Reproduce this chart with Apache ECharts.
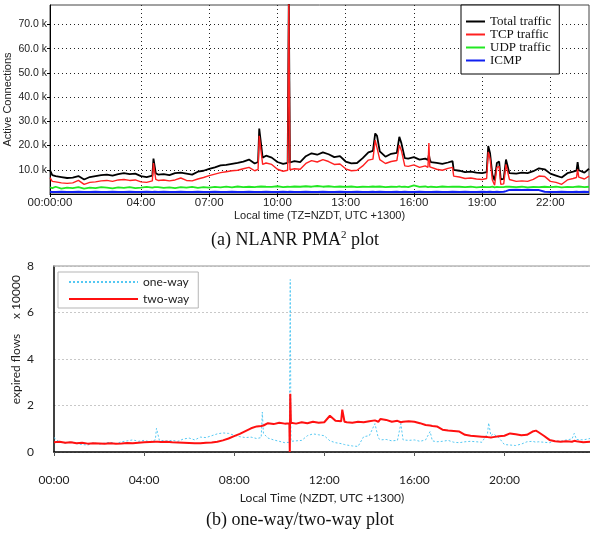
<!DOCTYPE html>
<html><head><meta charset="utf-8">
<script src="https://cdn.jsdelivr.net/npm/echarts@6/dist/echarts.min.js"></script>
<style>html,body{margin:0;padding:0;background:#fff}#c{width:590px;height:535px}</style>
</head><body><div id="c"></div>
<script>
// ---------- (a) NLANR PMA plot : hours, thousands of connections ----------
const timeA = [0,0.1,0.25,0.5,0.75,1,1.25,1.5,1.75,2,2.25,2.5,2.75,3,3.25,3.5,3.75,
  4,4.25,4.5,4.55,4.6,4.65,4.75,5,5.25,5.5,5.75,6,6.25,6.5,6.75,7,7.25,7.5,7.75,
  8,8.25,8.5,8.75,9,9.15,9.2,9.28,9.35,9.5,9.75,10,10.25,10.45,10.5,10.55,10.75,
  11,11.25,11.5,11.75,12,12.25,12.5,12.75,13,13.25,13.5,13.75,
  14,14.2,14.3,14.38,14.5,14.75,15,15.25,15.36,15.45,15.6,15.75,
  16,16.25,16.5,16.62,16.66,16.7,16.75,17,17.25,17.5,17.7,17.75,18,18.25,18.5,18.75,
  19,19.2,19.27,19.35,19.45,19.55,19.65,19.75,19.82,19.95,20.05,20.12,20.2,20.5,20.75,
  21,21.25,21.5,21.75,22,22.25,22.5,22.75,23,23.15,23.2,23.25,23.5,23.7];
const totalTraffic = [9.8,7.8,7.4,7.0,6.6,6.8,7.4,6.0,7.0,7.4,7.8,8.0,7.6,8.2,8.6,8.2,8.4,
  7.4,7.0,7.6,14.6,15.0,8.6,8.0,8.2,7.8,8.6,8.8,8.4,8.0,9.2,9.6,10.4,11.0,11.8,12.0,
  12.4,12.8,13.4,14.2,12.6,13.2,27.0,26.4,15.0,15.8,15.0,13.2,12.4,12.8,80,13.0,13.6,
  13.2,15.6,16.8,16.2,17.2,16.4,15.2,15.6,13.4,12.6,12.8,14.8,
  17.2,17.8,25.0,24.0,17.6,15.4,16.6,17.0,23.6,21.0,14.8,14.6,
  15.2,14.2,14.6,14.0,16.2,14.2,13.2,12.8,12.4,13.0,13.6,10.0,9.6,9.0,9.2,8.8,
  8.6,9.0,19.8,16.8,8.0,5.6,12.8,13.4,6.0,6.2,14.2,14.0,8.6,8.4,8.8,
  8.6,9.4,10.6,10.2,8.4,7.6,6.8,8.6,9.2,9.6,13.2,9.8,8.8,10.4];
const tcpTraffic = [6.8,5.2,5.0,4.6,4.4,4.6,5.6,4.0,4.8,5.0,5.4,5.6,5.2,5.8,6.0,5.6,5.8,
  5.0,4.8,5.4,12.8,13.0,6.0,5.6,5.8,5.4,5.8,6.6,5.6,5.4,6.2,6.8,7.6,8.2,8.8,9.2,
  9.6,9.8,10.4,11.0,9.6,10.2,24.0,23.6,12.2,12.8,12.2,10.2,9.4,9.8,80,10.0,10.4,
  10.2,12.6,13.8,13.2,14.2,13.4,12.2,12.4,10.4,9.6,9.8,11.6,
  14.0,14.4,22.2,21.4,14.2,12.6,13.4,13.8,20.2,18.0,11.6,11.4,
  12.0,11.0,11.6,11.0,21.0,11.2,10.4,10.2,9.8,10.6,11.0,7.4,7.0,6.4,6.6,6.2,
  6.0,6.4,17.4,14.6,5.8,3.6,11.0,11.4,4.0,4.2,12.2,12.0,6.0,5.2,5.4,
  5.2,6.0,7.4,7.2,5.2,4.8,4.0,5.8,6.4,6.8,10.2,7.0,6.2,7.4];
const udpTraffic = [2.8,2.4,3.0,2.2,2.6,2.4,2.8,2.2,2.6,2.4,2.8,2.6,2.3,2.7,2.5,2.8,2.4,
  2.6,2.9,2.6,2.7,2.8,2.6,2.8,2.5,2.7,2.4,2.8,2.6,2.9,2.5,2.8,2.6,2.9,2.7,3.0,
  2.7,3.1,2.8,3.0,2.8,3.0,2.9,3.1,2.8,3.0,2.9,3.2,2.8,3.0,3.1,2.9,3.1,
  3.0,3.2,3.0,3.3,3.0,3.2,2.9,3.1,2.9,3.1,2.8,3.0,
  2.9,3.1,3.0,2.9,3.1,2.8,3.0,2.9,3.1,2.9,3.0,2.8,
  3.6,2.9,3.1,2.8,3.0,2.9,3.0,2.8,3.1,2.9,3.0,2.8,3.0,2.8,3.0,2.7,
  2.9,2.8,3.0,2.8,3.0,2.7,2.9,2.8,3.0,2.8,3.0,2.8,3.0,2.8,3.0,
  2.7,2.9,2.8,3.0,2.8,3.0,2.7,2.9,2.8,3.0,2.9,3.1,2.8,3.0];
const icmpTraffic = [0.9,0.8,0.8,0.9,0.8,0.8,0.9,0.8,0.8,0.9,0.8,0.8,0.9,0.8,0.8,0.9,0.8,
  0.8,0.9,0.8,0.8,0.9,0.8,0.8,0.9,0.8,0.8,0.9,0.8,0.8,0.9,0.8,0.8,0.9,0.8,0.8,
  0.9,0.8,0.8,0.9,0.8,0.8,0.9,0.8,0.8,0.9,0.8,0.8,0.9,0.8,0.8,0.9,0.8,
  0.8,0.9,0.8,0.8,0.9,0.8,0.8,0.9,0.8,0.8,0.9,0.8,
  0.8,0.9,0.8,0.8,0.9,0.8,0.8,0.9,0.8,0.8,0.9,0.8,
  0.8,0.9,0.8,0.8,0.9,0.8,0.8,0.9,0.8,0.8,0.9,0.8,0.8,0.9,0.8,0.8,
  0.9,0.8,0.8,0.9,0.8,0.8,0.9,0.8,0.8,0.9,1.2,1.6,1.7,1.8,1.7,
  1.8,1.7,1.6,0.9,0.8,0.8,0.9,0.8,0.8,0.9,0.8,0.8,0.9,0.8];
const ticksA = [0,4,7,10,13,16,19,22];
const yTicksA = [10,20,30,40,50,60,70];

// ---------- (b) one-way / two-way plot : hours, x 10000 expired flows ----------
const timeB = [0,0.25,0.5,0.75,1,1.25,1.5,1.75,2,2.25,2.5,2.75,3,3.25,3.5,3.75,
  4,4.25,4.5,4.55,4.62,4.68,4.75,5,5.25,5.5,5.75,6,6.25,6.5,6.75,7,7.25,7.5,7.75,
  8,8.25,8.5,8.75,9,9.2,9.25,9.3,9.5,9.75,10,10.25,10.45,10.47,10.49,10.52,10.75,
  11,11.25,11.5,11.75,12,12.25,12.5,12.75,12.8,12.9,13,13.25,13.5,13.75,
  14,14.25,14.4,14.5,14.75,15,15.25,15.4,15.5,15.75,16,16.25,16.5,16.7,16.8,
  17,17.25,17.5,17.75,18,18.25,18.5,18.75,19,19.25,19.3,19.4,19.5,19.75,
  20,20.25,20.5,20.75,21,21.25,21.4,21.5,21.75,22,22.25,22.5,22.75,23,23.1,23.2,23.5,23.8];
const twoWay = [0.42,0.44,0.40,0.42,0.38,0.40,0.36,0.38,0.37,0.36,0.38,0.36,0.37,0.39,0.38,0.40,
  0.42,0.43,0.44,0.42,0.44,0.42,0.43,0.44,0.42,0.41,0.40,0.39,0.38,0.38,0.40,0.41,0.44,0.50,0.58,
  0.68,0.78,0.90,1.02,1.10,1.12,1.16,1.14,1.24,1.20,1.26,1.22,1.24,0.0,2.50,1.26,1.22,
  1.28,1.24,1.30,1.26,1.28,1.56,1.34,1.32,1.82,1.30,1.28,1.26,1.30,1.28,
  1.32,1.36,1.30,1.42,1.38,1.30,1.34,1.28,1.30,1.32,1.30,1.24,1.16,1.14,1.12,
  1.10,0.96,0.92,0.90,0.88,0.74,0.70,0.68,0.66,0.64,0.66,0.62,0.64,0.68,
  0.70,0.80,0.76,0.72,0.74,0.88,0.92,0.86,0.70,0.52,0.46,0.44,0.46,0.44,0.48,0.46,0.42,0.44];
const oneWay = [0.62,0.42,0.38,0.44,0.36,0.32,0.30,0.40,0.34,0.38,0.42,0.36,0.44,0.48,0.52,0.46,
  0.50,0.44,0.52,1.02,1.00,0.50,0.42,0.48,0.50,0.46,0.56,0.60,0.52,0.64,0.62,0.70,0.78,0.82,0.80,
  0.72,0.66,0.62,0.64,0.58,0.62,1.72,0.80,0.60,0.52,0.46,0.40,0.42,0.44,7.42,0.46,0.48,
  0.50,0.70,0.78,0.74,0.70,0.48,0.40,0.36,0.34,0.32,0.30,0.26,0.24,0.66,
  0.70,1.22,0.60,0.52,0.54,0.48,0.50,1.22,0.52,0.50,0.52,0.46,0.52,0.88,0.48,
  0.44,0.46,0.50,0.42,0.40,0.44,0.46,0.44,0.42,0.80,1.25,0.70,0.78,0.62,
  0.32,0.30,0.28,0.34,0.44,0.46,0.42,0.44,0.42,0.40,0.48,0.46,0.52,0.56,0.80,0.54,0.52,0.58];
const ticksB = [0,4,8,12,16,20];

function pairs(t, v) { return t.map((x, i) => [x, v[i]]); }
function hhmm(h) { return (h < 10 ? '0' : '') + h + ':00'; }

const sans = 'Liberation Sans';
const serif = 'Liberation Serif';
const calib = 'Lato';

const chart = echarts.init(document.getElementById('c'), null, { renderer: 'canvas' });
chart.setOption({
  animation: false,
  backgroundColor: '#fff',
  grid: [
    { left: 50, top: 5, width: 539, height: 189, show: true, borderColor: '#444', borderWidth: 1,
      backgroundColor: 'transparent', containLabel: false, outerBoundsMode: 'none' },
    { left: 54, top: 266, width: 536, height: 186, containLabel: false, outerBoundsMode: 'none' }
  ],
  legend: [
    {
      data: ['Total traffic', 'TCP traffic', 'UDP traffic', 'ICMP'],
      orient: 'vertical', left: 461, top: 5,
      padding: [10, 8, 7, 4], itemWidth: 19, itemHeight: 12, itemGap: 0,
      itemStyle: { opacity: 0 },
      backgroundColor: '#fff', borderColor: '#000', borderWidth: 1,
      textStyle: { fontFamily: serif, fontSize: 13, color: '#111', lineHeight: 12 }
    },
    {
      data: ['one-way', 'two-way'],
      orient: 'vertical', left: 58, top: 272,
      padding: [4, 9, 3, 10], itemWidth: 69, itemHeight: 12, itemGap: 5,
      itemStyle: { opacity: 0 },
      backgroundColor: '#fff', borderColor: '#b5b5b5', borderWidth: 1,
      textStyle: { fontFamily: calib, fontSize: 12, color: '#222' }
    }
  ],
  xAxis: [
    {
      type: 'value', gridIndex: 0, min: 0, max: 23.7,
      axisLine: { lineStyle: { color: '#000', width: 1 } },
      axisTick: { show: true, length: 3, customValues: ticksA, lineStyle: { color: '#000' } },
      axisLabel: { customValues: ticksA, margin: 3, fontFamily: sans, fontSize: 11.5, color: '#222',
        formatter: v => v === 0 ? '00:00:00' : hhmm(v) },
      splitLine: { show: true, lineStyle: { color: '#222', type: [1, 3], width: 1 } },
      name: 'Local time (TZ=NZDT, UTC +1300)', nameLocation: 'middle', nameGap: 16, nameMoveOverlap: false,
      nameTextStyle: { fontFamily: sans, fontSize: 11, color: '#222' }
    },
    {
      type: 'value', gridIndex: 1, min: 0, max: 23.8, interval: 4,
      axisLine: { lineStyle: { color: '#000', width: 1.5 } },
      axisTick: { show: true, length: 4, customValues: ticksB, lineStyle: { color: '#555' } },
      axisLabel: { customValues: ticksB, margin: 22, fontFamily: calib, fontSize: 12, color: '#222', formatter: v => hhmm(v) },
      splitLine: { show: false },
      name: 'Local Time (NZDT, UTC +1300)', nameLocation: 'middle', nameGap: 40, nameMoveOverlap: false,
      nameTextStyle: { fontFamily: calib, fontSize: 12, color: '#222' }
    },
    {
      type: 'value', gridIndex: 1, min: 0, max: 23.8, position: 'top',
      axisLine: { lineStyle: { color: '#b8b8b8', width: 1.5 } },
      axisTick: { show: false }, axisLabel: { show: false }, splitLine: { show: false }
    }
  ],
  yAxis: [
    {
      type: 'value', gridIndex: 0, min: 0, max: 78, interval: 10,
      axisLine: { show: true, lineStyle: { color: '#000', width: 1 } },
      axisTick: { show: true, length: 3, customValues: yTicksA, lineStyle: { color: '#000' } },
      axisLabel: { customValues: yTicksA, margin: 3, fontFamily: sans, fontSize: 10.5, color: '#222',
        formatter: v => v.toFixed(1) + ' k' },
      splitLine: { show: true, lineStyle: { color: '#222', type: [1, 3], width: 1 } },
      name: 'Active Connections', nameLocation: 'middle', nameGap: 37, nameMoveOverlap: false,
      nameTextStyle: { fontFamily: sans, fontSize: 11, color: '#222' }
    },
    {
      type: 'value', gridIndex: 1, min: 0, max: 8, interval: 2,
      axisLine: { show: true, lineStyle: { color: '#000', width: 1.5 } },
      axisTick: { show: false },
      axisLabel: { margin: 20, fontFamily: calib, fontSize: 12, color: '#222' },
      splitLine: { show: true, lineStyle: { color: '#c8c8c8', type: [2, 2], width: 1 } }
    }
  ],
  series: [
    { name: 'Total traffic', type: 'line', xAxisIndex: 0, yAxisIndex: 0, symbol: 'none',
      data: pairs(timeA, totalTraffic), lineStyle: { color: '#000', width: 1.8 }, itemStyle: { color: '#000' } },
    { name: 'TCP traffic', type: 'line', xAxisIndex: 0, yAxisIndex: 0, symbol: 'none',
      data: pairs(timeA, tcpTraffic), lineStyle: { color: '#ff2020', width: 1.4 }, itemStyle: { color: '#ff2020' } },
    { name: 'UDP traffic', type: 'line', xAxisIndex: 0, yAxisIndex: 0, symbol: 'none',
      data: pairs(timeA, udpTraffic), lineStyle: { color: '#22e822', width: 1.8 }, itemStyle: { color: '#22e822' } },
    { name: 'ICMP', type: 'line', xAxisIndex: 0, yAxisIndex: 0, symbol: 'none',
      data: pairs(timeA, icmpTraffic), lineStyle: { color: '#1020f0', width: 2 }, itemStyle: { color: '#1020f0' } },
    { name: 'one-way', type: 'line', xAxisIndex: 1, yAxisIndex: 1, symbol: 'none',
      data: pairs(timeB, oneWay), lineStyle: { color: '#55c8f2', width: 1, type: [2, 2] }, itemStyle: { color: '#55c8f2' } },
    { name: 'two-way', type: 'line', xAxisIndex: 1, yAxisIndex: 1, symbol: 'none',
      data: pairs(timeB, twoWay), lineStyle: { color: '#ff1010', width: 2 }, itemStyle: { color: '#ff1010' } }
  ],
  graphic: [
    { type: 'text', x: 295, y: 240,
      style: { text: '{a|(a) NLANR PMA}{s|2}{a| plot}', align: 'center', verticalAlign: 'middle',
        rich: { a: { fontFamily: serif, fontSize: 18, fill: '#111' },
                s: { fontFamily: serif, fontSize: 11, fill: '#111', padding: [0, 0, 9, 0] } } } },
    { type: 'text', x: 300, y: 520,
      style: { text: '(b) one-way/two-way plot', align: 'center', verticalAlign: 'middle',
        fontFamily: serif, fontSize: 18, fill: '#111' } },
    { type: 'text', x: 16, y: 297, rotation: Math.PI / 2,
      style: { text: 'x 10000', align: 'center', verticalAlign: 'middle', fontFamily: calib, fontSize: 12, fill: '#222' } },
    { type: 'text', x: 16, y: 369, rotation: Math.PI / 2,
      style: { text: 'expired flows', align: 'center', verticalAlign: 'middle', fontFamily: calib, fontSize: 12, fill: '#222' } }
  ]
});
</script></body></html>
